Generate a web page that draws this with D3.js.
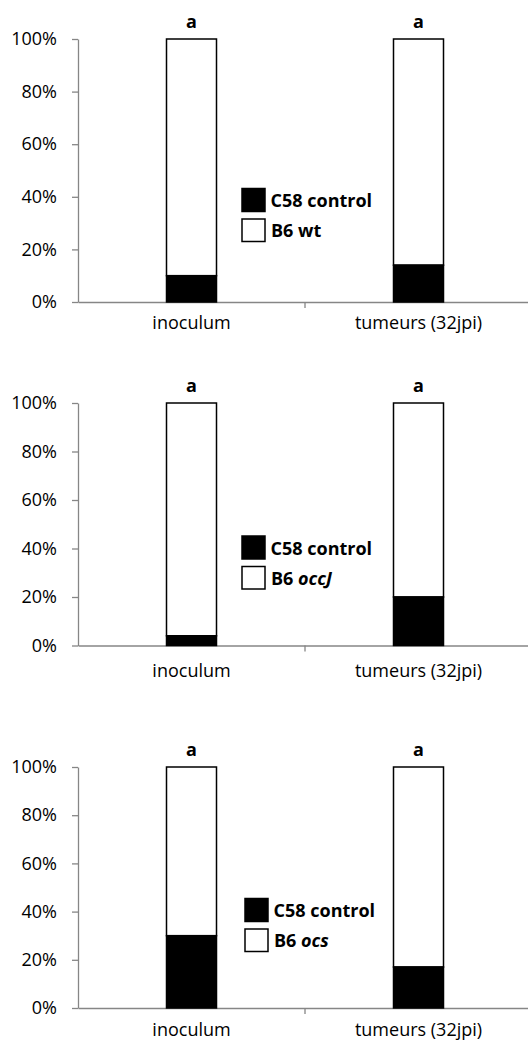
<!DOCTYPE html>
<html>
<head>
<meta charset="utf-8">
<script src="https://cdn.jsdelivr.net/npm/d3@7"></script>
<style>
  body { margin: 0; background: #fff; }
  text { font-family: "Open Sans", sans-serif; fill: #000; }
</style>
</head>
<body>
<div id="chart"></div>
<script>
// data
const categories = ["inoculum", "tumeurs (32jpi)"];
const c58Share1 = [10, 14];   // C58 control, panel 1 (B6 wt)
const c58Share2 = [4, 20];    // panel 2 (B6 occJ)
const c58Share3 = [30, 17];   // panel 3 (B6 ocs)
const strainNames = ["wt", "occJ", "ocs"];
const strainItalic = [false, true, true];
const groupLetters = ["a", "a"];
const yTicks = [0, 20, 40, 60, 80, 100];

const width = 528, height = 1041;
const axisLeft = 78;
const axisRight = 532;
const fontSize = 18;

// vertical extent of each panel (100% .. 0%)
const panelTop = [39, 403, 767];
const panelBottom = [302, 645.5, 1008];
const catLabelGap = [27, 31, 27.5];
const legendY = [188.5, 536, 898.5];
const legendX = [242, 242, 245];

const svg = d3.select("#chart")
  .append("svg")
  .attr("width", width)
  .attr("height", height);

const x = d3.scaleBand()
  .domain(categories)
  .range([axisLeft, axisRight]);

const barW = 50;

[c58Share1, c58Share2, c58Share3].forEach((c58, i) => {
  const y = d3.scaleLinear()
    .domain([0, 100])
    .range([panelBottom[i], panelTop[i]]);

  const g = svg.append("g");

  // y axis
  const yAx = g.append("g")
    .attr("transform", `translate(${axisLeft},0)`)
    .call(d3.axisLeft(y).tickValues(yTicks).tickFormat(d => d + "%").tickSize(6).tickSizeOuter(0));
  yAx.select(".domain").attr("stroke", "#868686").attr("stroke-width", 1.3);
  yAx.selectAll(".tick line").attr("stroke", "#868686").attr("stroke-width", 1.3);
  yAx.selectAll(".tick text")
    .attr("x", -21)
    .attr("font-size", fontSize)
    .attr("font-family", "'Open Sans', sans-serif")
    .attr("fill", "#000");

  // x axis
  const xAx = g.append("g")
    .attr("transform", `translate(0,${panelBottom[i]})`)
    .call(d3.axisBottom(x).tickSize(0).tickSizeOuter(0));
  xAx.select(".domain").attr("stroke", "#868686").attr("stroke-width", 1.3);
  xAx.selectAll(".tick text")
    .attr("y", catLabelGap[i])
    .attr("dy", 0)
    .attr("font-size", fontSize)
    .attr("font-family", "'Open Sans', sans-serif")
    .attr("fill", "#000");
  // tick between the categories
  xAx.append("line")
    .attr("x1", x(categories[1])).attr("x2", x(categories[1]))
    .attr("y1", 0).attr("y2", 6)
    .attr("stroke", "#868686").attr("stroke-width", 1.3);

  const cx = d => x(d) + x.bandwidth() / 2;

  // B6 part (white, full stack)
  g.selectAll(".b6")
    .data(categories)
    .join("rect")
    .attr("x", d => cx(d) - barW / 2)
    .attr("width", barW)
    .attr("y", y(100))
    .attr("height", (d, j) => y(c58[j]) - y(100))
    .attr("fill", "#fff")
    .attr("stroke", "#000")
    .attr("stroke-width", 1.5);

  // C58 part (black)
  g.selectAll(".c58")
    .data(categories)
    .join("rect")
    .attr("x", d => cx(d) - barW / 2)
    .attr("width", barW)
    .attr("y", (d, j) => y(c58[j]))
    .attr("height", (d, j) => y(0) - y(c58[j]))
    .attr("fill", "#000")
    .attr("stroke", "#000")
    .attr("stroke-width", 1.5);

  // significance letters
  g.selectAll(".letter")
    .data(categories)
    .join("text")
    .attr("x", d => cx(d))
    .attr("y", y(100) - 11)
    .attr("text-anchor", "middle")
    .attr("font-size", fontSize)
    .attr("font-weight", "bold")
    .text((d, j) => groupLetters[j]);

  // legend
  const lg = g.append("g").attr("transform", `translate(${legendX[i]},${legendY[i]})`);
  lg.append("rect").attr("x", 0).attr("y", 0).attr("width", 23).attr("height", 23)
    .attr("fill", "#000").attr("stroke", "#000").attr("stroke-width", 1.5);
  lg.append("rect").attr("x", 0).attr("y", 30.5).attr("width", 23).attr("height", 22.5)
    .attr("fill", "#fff").attr("stroke", "#000").attr("stroke-width", 1.5);
  lg.append("text").attr("x", 28.5).attr("y", 18.5)
    .attr("font-size", fontSize).attr("font-weight", "bold")
    .text("C58 control");
  const t = lg.append("text").attr("x", 29).attr("y", 48.5)
    .attr("font-size", fontSize).attr("font-weight", "bold");
  t.append("tspan").text("B6 ");
  t.append("tspan")
    .attr("font-style", strainItalic[i] ? "italic" : "normal")
    .text(strainNames[i]);
});
</script>
</body>
</html>
